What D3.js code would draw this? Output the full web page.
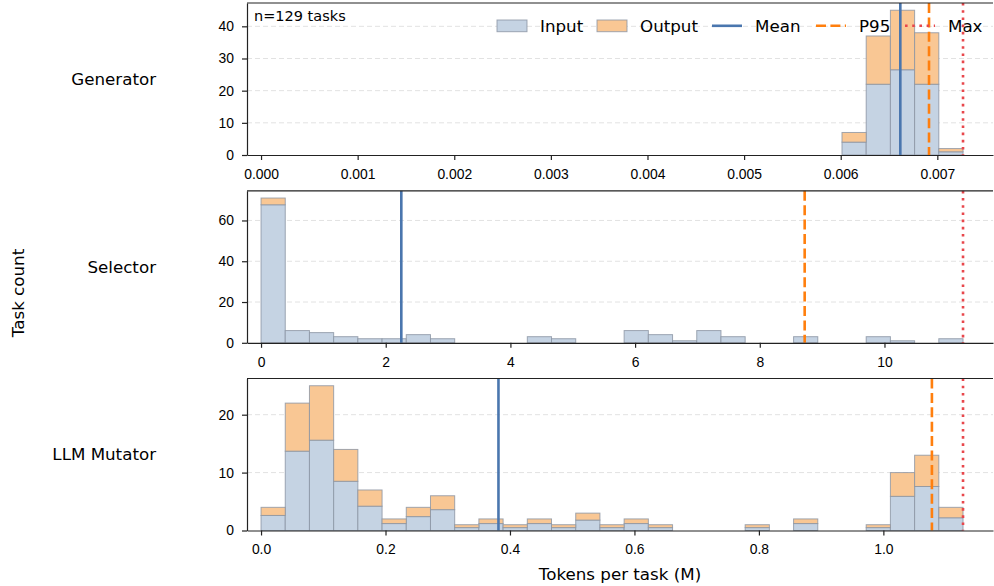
<!DOCTYPE html>
<html>
<head>
<meta charset="utf-8">
<script src="https://cdn.jsdelivr.net/npm/d3@7"></script>
<style>
  body { margin: 0; background: #fff; }
  svg { font-family: "DejaVu Sans", sans-serif; }
  .axis text { font-size: 13.9px; fill: #000; }
  .axis path, .axis line { stroke: #222; stroke-width: 1.2; }
</style>
</head>
<body>
<svg id="plot"></svg>
<script>
// Define data
const panelNames = ["Generator", "Selector", "LLM Mutator"];
const nBins = 29;

// per-bin counts (29 equal bins from 0 to max), split into input / output share
const genInput  = [0,0,0,0,0,0,0,0,0,0,0,0,0,0,0,0,0,0,0,0,0,0,0,0,4,22,26.5,22,1];
const genOutput = [0,0,0,0,0,0,0,0,0,0,0,0,0,0,0,0,0,0,0,0,0,0,0,0,3,15,18.5,16,1];
const selInput  = [67.7,6,5,3,2,2,4,2,0,0,0,3,2,0,0,6,4,1,6,3,0,0,3,0,0,3,1,0,2];
const selOutput = [3.3,0,0,0,0,0,0,0,0,0,0,0,0,0,0,0,0,0,0,0,0,0,0,0,0,0,0,0,0];
const mutInput  = [2.6,13.7,15.6,8.5,4.2,1.2,2.4,3.6,0.5,1.2,0.5,1.2,0.5,1.8,0.5,1.2,0.5,0,0,0,0.5,0,1.2,0,0,0.5,5.9,7.6,2.2];
const mutOutput = [1.4,8.3,9.4,5.5,2.8,0.8,1.6,2.4,0.5,0.8,0.5,0.8,0.5,1.2,0.5,0.8,0.5,0,0,0,0.5,0,0.8,0,0,0.5,4.1,5.4,1.8];

const inputs = [genInput, selInput, mutInput];
const outputs = [genOutput, selOutput, mutOutput];

const meanVals = [0.006617, 2.25, 0.3815];
const p95Vals  = [0.006914, 8.72, 1.078];
const maxVals  = [0.007266, 11.26, 1.128];

const xTicks = [
  [0, 0.001, 0.002, 0.003, 0.004, 0.005, 0.006, 0.007],
  [0, 2, 4, 6, 8, 10],
  [0, 0.2, 0.4, 0.6, 0.8, 1.0]
];
const xFormats = [".3f", "d", ".1f"];
const yTicks = [
  [0, 10, 20, 30, 40],
  [0, 20, 40, 60],
  [0, 10, 20]
];
const nTasks = 129;

// colours
const inputColor = "#c5d3e3";
const outputColor = "#f9c794";
const edgeColor = "#8a94a3";
const meanColor = "#4a76ae";
const p95Color = "#ff7f0e";
const maxColor = "#e8474c";

// layout
const W = 994, H = 586;
const left = 247, right = 993;
const panelTops = [3, 190.8, 378.5];
const panelH = 152;

const svg = d3.select("#plot").attr("width", W).attr("height", H);

panelNames.forEach((name, p) => {
  const top = panelTops[p];
  const bottom = top + panelH;
  const mx = maxVals[p];
  const inp = inputs[p], out = outputs[p];
  const totals = inp.map((v, i) => v + out[i]);

  const x = d3.scaleLinear()
    .domain([-0.02 * mx, 1.0427 * mx])
    .range([left, right]);
  const y = d3.scaleLinear()
    .domain([0, d3.max(totals) * 1.05])
    .range([bottom, top]);

  const g = svg.append("g");

  // grid
  g.selectAll(".grid")
    .data(yTicks[p].filter(d => d > 0))
    .enter().append("line")
    .attr("x1", left).attr("x2", right)
    .attr("y1", d => y(d)).attr("y2", d => y(d))
    .attr("stroke", "#e2e2e2")
    .attr("stroke-width", 1)
    .attr("stroke-dasharray", "5,3");

  const bins = d3.range(nBins).map(i => ({
    x0: i * mx / nBins,
    x1: (i + 1) * mx / nBins,
    inp: inp[i],
    out: out[i]
  }));

  // input bars
  g.selectAll(".bar-in")
    .data(bins.filter(d => d.inp > 0))
    .enter().append("rect")
    .attr("x", d => x(d.x0))
    .attr("width", d => x(d.x1) - x(d.x0))
    .attr("y", d => y(d.inp))
    .attr("height", d => y(0) - y(d.inp))
    .attr("fill", inputColor)
    .attr("stroke", edgeColor)
    .attr("stroke-opacity", 0.8)
    .attr("stroke-width", 1);

  // output bars stacked on top
  g.selectAll(".bar-out")
    .data(bins.filter(d => d.out > 0))
    .enter().append("rect")
    .attr("x", d => x(d.x0))
    .attr("width", d => x(d.x1) - x(d.x0))
    .attr("y", d => y(d.inp + d.out))
    .attr("height", d => y(d.inp) - y(d.inp + d.out))
    .attr("fill", outputColor)
    .attr("stroke", edgeColor)
    .attr("stroke-opacity", 0.8)
    .attr("stroke-width", 1);

  // reference lines
  const vline = (v, color, dash) => g.append("line")
    .attr("x1", x(v)).attr("x2", x(v))
    .attr("y1", top).attr("y2", bottom)
    .attr("stroke", color)
    .attr("stroke-width", 2.6)
    .attr("stroke-dasharray", dash);
  vline(meanVals[p], meanColor, null);
  vline(p95Vals[p], p95Color, "10,4.4");
  vline(maxVals[p], maxColor, "2.6,4.6");

  // axes
  g.append("g")
    .attr("class", "axis")
    .attr("transform", `translate(0,${bottom})`)
    .call(d3.axisBottom(x).tickValues(xTicks[p]).tickFormat(d3.format(xFormats[p]))
      .tickSize(5).tickSizeOuter(0).tickPadding(9));

  g.append("g")
    .attr("class", "axis")
    .attr("transform", `translate(${left},0)`)
    .call(d3.axisLeft(y).tickValues(yTicks[p]).tickSize(5).tickSizeOuter(0).tickPadding(8));

  // top spine
  g.append("line")
    .attr("x1", left).attr("x2", right)
    .attr("y1", top).attr("y2", top)
    .attr("stroke", "#222").attr("stroke-width", 1.2);

  // row label
  svg.append("text")
    .attr("x", 156)
    .attr("y", (top + bottom) / 2 + 5.8)
    .attr("text-anchor", "end")
    .style("font-size", "16.7px")
    .text(name);

  if (p === 0) {
    svg.append("text")
      .attr("x", 254)
      .attr("y", 20.5)
      .style("font-size", "14.5px")
      .text(`n=${nTasks} tasks`);

    // legend
    const leg = svg.append("g").style("font-size", "16.7px");
    const ly = 25.8;
    const patches = [
      { label: "Input", fill: inputColor, x: 497 },
      { label: "Output", fill: outputColor, x: 597 }
    ];
    patches.forEach(d => {
      leg.append("rect")
        .attr("x", d.x).attr("y", ly - 5.8)
        .attr("width", 30).attr("height", 11.7)
        .attr("fill", d.fill)
        .attr("stroke", edgeColor).attr("stroke-opacity", 0.8);
      leg.append("text")
        .attr("x", d.x + 43).attr("y", 31.6)
        .text(d.label);
    });
    const lines = [
      { label: "Mean", color: meanColor, dash: null, x: 712 },
      { label: "P95", color: p95Color, dash: "10,4.4", x: 816 },
      { label: "Max", color: maxColor, dash: "2.6,4.6", x: 905 }
    ];
    lines.forEach(d => {
      leg.append("line")
        .attr("x1", d.x).attr("x2", d.x + 30)
        .attr("y1", ly).attr("y2", ly)
        .attr("stroke", d.color).attr("stroke-width", 2.6)
        .attr("stroke-dasharray", d.dash);
      leg.append("text")
        .attr("x", d.x + 43).attr("y", 31.6)
        .text(d.label);
    });
  }
});

// shared axis labels
svg.append("text")
  .attr("transform", "translate(24,293) rotate(-90)")
  .attr("text-anchor", "middle")
  .style("font-size", "16.7px")
  .text("Task count");

svg.append("text")
  .attr("x", 620)
  .attr("y", 580)
  .attr("text-anchor", "middle")
  .style("font-size", "16.7px")
  .text("Tokens per task (M)");
</script>
</body>
</html>
